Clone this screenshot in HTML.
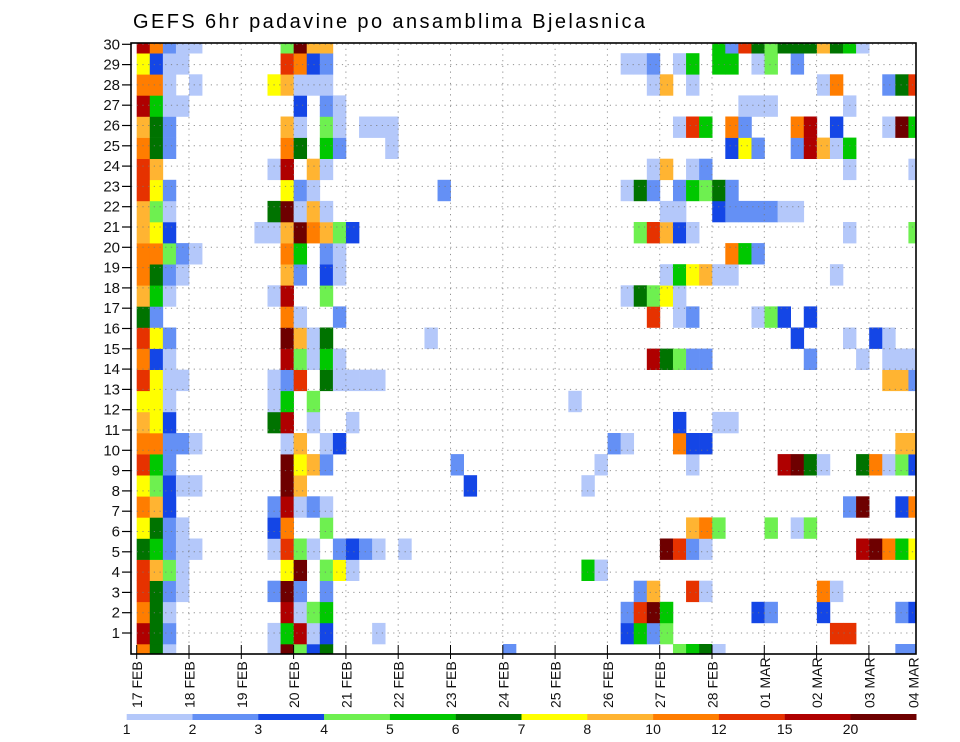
<!DOCTYPE html>
<html>
<head>
<meta charset="utf-8">
<style>
  html,body{margin:0;padding:0;background:#fff;}
  svg{display:block;font-family:"Liberation Sans",sans-serif;}
</style>
</head>
<body>
<svg id="chart" width="960" height="742" viewBox="0 0 960 742" xmlns="http://www.w3.org/2000/svg">
  <text x="133" y="28" font-size="20" fill="#000" textLength="512">GEFS 6hr padavine po ansamblima Bjelasnica</text>
  <defs><clipPath id="plotclip"><rect x="131" y="43" width="785" height="611"/></clipPath></defs>
  <g id="cells" clip-path="url(#plotclip)"></g>
  <g id="grid"></g>
  <rect x="131" y="43" width="785" height="611" fill="none" stroke="#000" stroke-width="1.6"/>
  <g id="yaxis"></g>
  <g id="xaxis"></g>
  <g id="legend"></g>
</svg>
<script>
// ---- data ----
const dateLabels = ["17 FEB","18 FEB","19 FEB","20 FEB","21 FEB","22 FEB","23 FEB","24 FEB","25 FEB","26 FEB","27 FEB","28 FEB","01 MAR","02 MAR","03 MAR","04 MAR"];
const memberLabels = [1,2,3,4,5,6,7,8,9,10,11,12,13,14,15,16,17,18,19,20,21,22,23,24,25,26,27,28,29,30];
const levels = [1,2,3,4,5,6,7,8,10,12,15,20];
const levelColors = ["#b4c8fa","#6490f5","#1446e6","#6ef050","#00c800","#007300","#ffff00","#ffb432","#ff7d00","#e63200","#af0000","#6e0000"];
// representative precipitation (mm) per code letter
const codeValues = {a:1.5,b:2.5,c:3.5,d:4.5,e:5.5,f:6.5,g:7.5,h:9,i:11,j:13.5,k:17.5,l:25};
// rows bottom (index 0) to top; tokens "column+code" over 60 six-hour steps
const rows = [
 "0i 1f 2a 10a 11l 12d 13c 14f 28b 41d 42e 43f 44a 58b 59b",
 "0k 1f 2b 10a 11e 12k 13a 14c 18a 37c 38e 39b 40d 53j 54j",
 "0i 1f 2a 11k 12a 13d 14e 37b 38j 39l 40e 47c 48b 52c 58b 59c",
 "0j 1f 2b 3a 10b 11l 12b 14b 38b 39h 42j 43a 52i 53a",
 "0j 1h 2d 3a 11g 12l 14d 15g 16a 34e 35a",
 "0f 1e 2b 3a 4a 10a 11j 12d 13a 15b 16c 17b 18a 20a 40l 41j 42b 43a 55k 56l 57i 58e 59g",
 "0g 1f 2b 3a 10c 11i 14d 42h 43i 44d 48d 50a 51d",
 "0i 1h 2c 10b 11k 12a 13b 14a 54b 55l 58c 59i",
 "0g 1d 2c 3a 4a 11l 12h 25c 34a",
 "0j 1e 2b 11l 12g 13h 14b 24b 35a 42a 49k 50l 51f 52a 55f 56i 57a 58d 59c",
 "0i 1i 2b 3b 4a 11a 12h 14a 15c 36b 37a 41i 42c 43c 58h 59h",
 "0h 1g 2c 10f 11k 13a 16a 41c 44a 45a",
 "0g 1g 2a 10a 11e 13d 33a",
 "0j 1g 2a 3a 10a 11b 12j 14f 15a 16a 17a 18a 57h 58h 59b",
 "0i 1c 2a 11k 12d 13a 14e 15a 39k 40f 41d 42b 43b 51b 55a 57a 58a 59a",
 "0j 1g 2b 11l 12h 13a 14f 22a 50c 54a 56c 57a",
 "0f 1b 11i 12a 15b 39j 41a 42b 47a 48d 49c 51c",
 "0h 1e 2a 10a 11k 14d 37a 38f 39d 40g 41a",
 "0i 1f 2b 3a 11h 12b 14c 15a 40a 41e 42g 43h 44a 45a 53a",
 "0i 1i 2d 3b 4a 11i 12e 14b 15a 45i 46e 47b",
 "0h 1g 2c 9a 10a 11h 12l 13i 14h 15d 16c 38d 39j 40h 41c 42a 54a 59d",
 "0h 1d 2a 10f 11l 12a 13h 14a 40a 41a 44c 45b 46b 47b 48b 49a 50a",
 "0j 1g 2b 11g 12b 13a 23b 37a 38f 39b 41b 42e 43d 44f 45b",
 "0j 1h 10a 11k 13h 14a 39a 40h 42a 43b 54a 59a",
 "0i 1f 2b 11i 12f 14e 15b 19a 45c 46g 47b 50b 51k 52h 53a 54e",
 "0h 1f 2b 11h 12a 14d 15a 17a 18a 19a 41a 42j 43e 45i 46b 50i 51k 53c 57a 58l 59e",
 "0k 1e 2a 3a 12c 14b 15a 46a 47a 48a 54a",
 "0i 1i 2a 4a 10g 11h 12a 13a 14a 39a 40h 42a 52a 53i 57b 58f 59j",
 "0g 1c 2a 3a 11j 12i 13c 14b 37a 38a 39b 41a 42e 44e 45e 47a 48d 50b",
 "0k 1i 2b 3a 4a 11d 12l 13h 14h 44e 45b 46j 47f 48d 49f 50f 51f 52h 53f 54e 55a"
];
// ---- scales ----
const NS="http://www.w3.org/2000/svg";
const X0=136.7, COLW=13.08, DAYW=52.3;
const xCol = c => X0 + c*COLW;
const xDay = d => X0 + d*DAYW;
const yCellTop = k => 644 - k*21.1;
const CELLH = 21.1;
const yLabel = n => 633 - (n-1)*20.3;
function colorFor(v){ let idx=-1; for(let i=0;i<levels.length;i++){ if(v>=levels[i]) idx=i; } return idx<0?null:levelColors[idx]; }
function mk(tag, attrs, parent){ const el=document.createElementNS(NS,tag); for(const k in attrs) el.setAttribute(k,attrs[k]); parent.appendChild(el); return el; }

// cells
const gc=document.getElementById('cells');
rows.forEach((row,k)=>{
  row.split(' ').forEach(tok=>{
    const c=parseInt(tok,10); const code=tok.replace(/[0-9]/g,'');
    const v=codeValues[code]; const col=colorFor(v); if(!col) return;
    const r=mk('rect',{x:xCol(c).toFixed(2),y:yCellTop(k).toFixed(2),width:(COLW+0.3).toFixed(2),height:(CELLH+0.3).toFixed(2),fill:col},gc);
    
    
  });
});
// grid
const gg=document.getElementById('grid');
memberLabels.forEach(n=>{
  const l=mk('line',{x1:131,x2:916,y1:yLabel(n),y2:yLabel(n),stroke:'#777','stroke-width':1,'stroke-dasharray':'1.2 4.5','stroke-opacity':0.8},gg);
  
  
});
for(let d=1; d<dateLabels.length-1; d++){
  const l=mk('line',{x1:xDay(d),x2:xDay(d),y1:43,y2:654,stroke:'#777','stroke-width':1,'stroke-dasharray':'1.2 4.5','stroke-opacity':0.8},gg);
  
  
}
// y axis
const gy=document.getElementById('yaxis');
memberLabels.forEach(n=>{
  const t=mk('line',{x1:122,x2:131,y1:yLabel(n),y2:yLabel(n),stroke:'#000','stroke-width':1.2},gy);
  
  
  const tx=mk('text',{x:120,y:yLabel(n)+5,'font-size':15,'text-anchor':'end',fill:'#111'},gy);
  tx.textContent=n;
  
  
});
// x axis
const gx=document.getElementById('xaxis');
dateLabels.forEach((lab,d)=>{
  const x=xDay(d);
  if(x<=916){
    const t=mk('line',{x1:x,x2:x,y1:645,y2:659,stroke:'#000','stroke-width':1},gx);
    
    
  }
  const lx=Math.min(x,913);
  const tx=mk('text',{transform:'translate('+(lx+5.5).toFixed(1)+',708) rotate(-90)','font-size':14,fill:'#111'},gx);
  tx.textContent=lab;
  
  
});
// legend
const gl=document.getElementById('legend');
const LX0=126.7, LW=65.8;
levelColors.forEach((col,i)=>{
  const r=mk('rect',{x:LX0+i*LW,y:714,width:LW+0.2,height:6,fill:col},gl);
  
  
});
levels.forEach((lv,i)=>{
  const t=mk('text',{x:LX0+i*LW,y:734,'font-size':14,'text-anchor':'middle',fill:'#111'},gl);
  t.textContent=lv;
  
  
});
</script>
</body>
</html>
